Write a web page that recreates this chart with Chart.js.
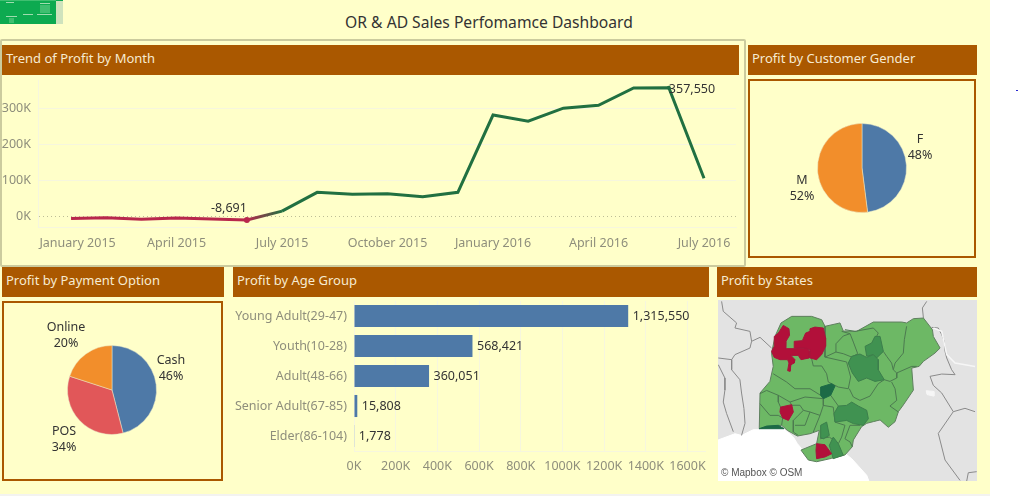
<!DOCTYPE html>
<html lang="en">
<head>
<meta charset="UTF-8">
<title>OR & AD Sales Dashboard</title>
<script src="https://cdn.jsdelivr.net/npm/chart.js"></script>
<style>
    html, body { margin: 0; padding: 0; background: #fff; overflow: hidden; }
    body { width: 1018px; height: 496px; position: relative; font-family: "Noto Sans", sans-serif; }
    .page { position: absolute; left: 0; top: 0; width: 990px; height: 494px; background: #FFFFC9; }
    .strip { position: absolute; left: 0; top: 494px; width: 990px; height: 2px; background: #F3F3F0; }
    .thumb { position: absolute; left: 0; top: 0; width: 63px; height: 24px; background: #0DAA50; }
    .thumb i { position: absolute; background: #9fdcae; height: 1px; display: block; }
    .thumb .side { left: 56px; top: 1px; width: 7px; height: 23px; background: #cfe3bd; }
    .thumb .pane { background: #3fbf70; }
    .title { position: absolute; left: 0; top: 11px; width: 978px; text-align: center; font-size: 15.65px; color: #333; white-space: nowrap; }
    .trendbox { position: absolute; left: 0; top: 39px; width: 742px; height: 224px; border: 2px solid #CBCB9E; border-radius: 2px; }
    .head { position: absolute; height: 30px; line-height: 26px; background: #AA5800; color: #F7EBD2; font-size: 13px; box-sizing: border-box; padding-left: 4px; white-space: nowrap; }
    .box { position: absolute; border: 2px solid #AA5800; box-sizing: border-box; }
    canvas { position: absolute; }
    .lbl { position: absolute; width: 70px; margin-left: -35px; text-align: center; font-size: 12.5px; line-height: 16px; color: #333; }
    .map { position: absolute; left: 718px; top: 300px; width: 259px; height: 181px; background: #E3E3E3; }
    .credit { position: absolute; left: 721px; top: 467px; font: 10px "Liberation Sans", sans-serif; color: #555; }
    .dot { position: absolute; left: 1016px; top: 90px; width: 2px; height: 1px; background: #2a2ad0; }
</style>
</head>
<body>
<div class="page"></div>
<div class="strip"></div>
<div class="thumb">
    <i class="pane" style="left:0;top:0;width:56px"></i>
    <i style="left:6px;top:2px;width:8px"></i>
    <i style="left:40px;top:3px;width:10px"></i>
    <i style="left:6px;top:16px;width:11px"></i>
    <i style="left:23px;top:14px;width:10px"></i>
    <i style="left:37px;top:14px;width:15px"></i>
    <i class="pane" style="left:40px;top:5px;width:10px;height:8px"></i>
    <i class="pane" style="left:9px;top:18px;width:5px;height:5px"></i>
    <i class="side"></i>
</div>
<div class="title">OR &amp; AD Sales Perfomamce Dashboard</div>
<div class="trendbox"></div>
<div class="head" style="left:2px;top:45px;width:737px">Trend of Profit by Month</div>
<div class="head" style="left:748px;top:45px;width:229px">Profit by Customer Gender</div>
<div class="head" style="left:2px;top:267px;width:222px">Profit by Payment Option</div>
<div class="head" style="left:233px;top:267px;width:476px">Profit by Age Group</div>
<div class="head" style="left:717px;top:267px;width:260px">Profit by States</div>
<div class="box" style="left:748px;top:79px;width:228px;height:179px"></div>
<div class="box" style="left:2px;top:301px;width:221px;height:180px"></div>

<canvas id="trendChart" width="742" height="188" style="left:2px;top:76px"></canvas>
<canvas id="genderChart" width="110" height="110" style="left:807px;top:113px"></canvas>
<canvas id="paymentChart" width="110" height="110" style="left:57px;top:335px"></canvas>
<canvas id="ageChart" width="476" height="182" style="left:233px;top:301px"></canvas>
<div class="map"></div>
<canvas id="mapChart" width="259" height="181" style="left:718px;top:300px"></canvas>
<div class="credit">© Mapbox © OSM</div>
<div class="dot"></div>

<div class="lbl" id="gender0" style="left:920px;top:131px"></div>
<div class="lbl" id="gender1" style="left:802px;top:172px"></div>
<div class="lbl" id="payment0" style="left:171px;top:352px"></div>
<div class="lbl" id="payment1" style="left:64px;top:423px"></div>
<div class="lbl" id="payment2" style="left:66px;top:319px"></div>

<script>
    // monthly profit, January 2015 to July 2016
    const months = ['January 2015', 'February 2015', 'March 2015', 'April 2015', 'May 2015', 'June 2015',
        'July 2015', 'August 2015', 'September 2015', 'October 2015', 'November 2015', 'December 2015',
        'January 2016', 'February 2016', 'March 2016', 'April 2016', 'May 2016', 'June 2016', 'July 2016'];
    const monthlyProfit = [-4200, -2600, -6800, -3400, -6000, -8691, 16000, 68000, 63000, 64000, 56000, 68000,
        282000, 265000, 301000, 309000, 357000, 357550, 107000];
    const monthTicks = [0, 3, 6, 9, 12, 15, 18];
    const profitTicks = [0, 100000, 200000, 300000];

    const genderLabels = ['F', 'M'];
    const genderValues = [48, 52];
    const paymentLabels = ['Cash', 'POS', 'Online'];
    const paymentValues = [46, 34, 20];

    const ageGroups = ['Young Adult(29-47)', 'Youth(10-28)', 'Adult(48-66)', 'Senior Adult(67-85)', 'Elder(86-104)'];
    const ageProfit = [1315550, 568421, 360051, 15808, 1778];
    const ageTicks = [0, 200000, 400000, 600000, 800000, 1000000, 1200000, 1400000, 1600000];

    // map outlines as [longitude, latitude]
    const nigeria = [[4.17,13.38],[4.88,13.81],[6.21,13.81],[6.88,13.59],[7.10,13.16],[8.10,13.38],[8.32,12.85],[9.21,12.83],[10.32,13.44],[12.21,13.44],[12.54,13.38],[12.99,13.66],[13.66,13.70],[14.26,12.94],[14.32,12.50],[14.77,11.74],[14.43,11.41],[13.66,10.87],[13.37,10.54],[12.88,10.43],[12.99,8.99],[12.32,8.02],[11.99,7.58],[11.77,6.93],[11.32,6.56],[10.77,7.04],[10.32,6.93],[9.88,6.82],[9.54,6.60],[8.99,5.73],[8.92,5.29],[8.43,4.75],[7.54,4.53],[6.54,4.31],[5.99,4.42],[5.50,5.07],[6.54,5.49],[6.72,6.36],[6.10,6.14],[5.26,5.99],[4.59,6.36],[4.21,6.69],[2.72,6.47],[2.77,8.80],[3.43,9.56],[3.65,10.54],[3.54,11.41],[3.77,12.50]];
    const sea = [[-0.08,5.71],[1.10,6.14],[1.54,6.03],[2.32,6.40],[4.43,6.40],[4.99,5.92],[5.26,5.49],[5.54,5.16],[5.99,4.62],[6.66,4.51],[8.32,4.94],[8.88,4.51],[9.88,3.42],[10.05,2.98],[-0.08,2.98]];
    const lake = [[13.85,8.95],[14.35,8.90],[14.35,8.60],[13.90,8.70]];
    const borderLines = [
        [[0.21,14.79],[0.32,14.14],[1.21,13.38],[1.10,13.05],[2.10,12.83],[2.21,12.18],[2.77,12.44],[3.54,11.74]],
        [[2.21,12.18],[2.10,11.74],[1.10,11.31],[0.88,10.98],[-0.01,11.09]],
        [[0.88,10.98],[0.88,10.32],[1.43,9.67],[1.54,8.80],[1.70,7.78],[1.77,6.82],[1.54,6.03]],
        [[-0.01,10.65],[0.43,9.78],[0.43,8.99],[0.32,8.21],[0.54,7.47],[0.99,6.27]],
        [[13.88,14.79],[13.59,14.36],[13.66,13.70]],
        [[14.21,13.09],[14.65,13.05],[14.88,12.61],[15.05,12.18],[15.10,11.52],[15.21,11.09],[15.54,10.32],[15.77,10.00],[14.88,10.04],[14.10,9.89],[14.32,9.30],[14.88,8.80],[15.65,7.58],[14.65,6.16],[15.10,4.42],[16.10,3.09]],
        [[15.65,7.58],[16.43,7.80],[17.10,7.58]],
        [[16.54,3.03],[16.65,3.59],[17.21,3.66]]
    ];
    const river = [[14.32,13.05],[14.88,12.83],[15.21,11.31],[15.77,10.76],[17.10,10.54]];
    const stateLines = [
        [[7.10,13.16],[7.10,11.15],[8.54,10.83],[8.81,9.85],[8.65,9.08]],
        [[7.10,11.15],[7.83,11.48],[7.83,12.02],[8.32,12.53],[8.77,12.68],[8.99,12.13],[9.28,11.37],[8.88,11.15]],
        [[7.83,11.48],[8.32,11.37],[8.88,11.15]],
        [[8.21,12.83],[8.77,12.68]],
        [[8.43,12.94],[9.10,12.83],[10.32,13.05],[10.65,12.72],[10.54,12.50]],
        [[12.54,13.16],[12.39,12.29],[12.32,11.41],[11.77,10.76],[11.65,10.32],[11.88,10.11],[12.88,10.54],[13.21,10.54]],
        [[10.99,11.52],[11.21,11.20],[11.54,10.76],[11.65,10.32]],
        [[11.88,10.11],[11.88,9.78],[11.43,9.56],[11.05,9.67]],
        [[6.21,11.04],[6.32,10.57],[6.88,10.57],[7.21,10.06],[7.32,9.52],[7.99,9.19],[8.65,9.08]],
        [[8.72,9.08],[8.99,8.54],[9.43,8.32],[10.10,8.60],[10.65,9.41],[11.05,9.67]],
        [[11.54,9.52],[11.77,9.08],[11.88,8.32],[11.43,7.95],[11.99,7.56]],
        [[3.65,10.06],[4.54,9.52],[5.10,9.08],[6.10,9.08],[6.81,8.65]],
        [[2.77,8.76],[3.21,8.97],[3.99,8.65],[4.77,8.21],[5.77,8.54],[6.99,8.43]],
        [[3.99,8.65],[3.99,8.21],[4.14,7.88]],
        [[2.77,8.10],[3.43,7.34],[3.99,7.34],[4.28,7.17]],
        [[4.28,7.17],[4.21,6.69]],
        [[4.88,8.00],[5.43,8.00],[5.66,7.67],[5.32,7.34],[4.99,7.01],[4.99,6.25],[5.32,6.03]],
        [[5.66,7.67],[6.10,7.56],[5.77,6.69],[5.10,6.69]],
        [[6.10,7.56],[6.77,7.34],[6.32,6.25]],
        [[4.77,8.21],[4.88,8.00]],
        [[6.99,8.43],[6.99,7.99],[7.65,7.88],[7.77,6.90]],
        [[6.99,7.99],[6.77,7.34]],
        [[7.77,6.90],[8.43,6.69],[8.21,5.92],[7.99,5.49]],
        [[9.43,6.69],[8.77,6.69],[8.43,5.81],[8.77,5.60],[8.92,5.29]],
        [[6.77,5.81],[7.39,5.92],[7.70,5.70]],
        [[7.48,8.65],[7.99,7.95]]
    ];
    const midStates = [
        [[8.88,11.20],[9.43,11.35],[9.88,11.13],[10.32,11.31],[10.65,10.98],[10.65,10.32],[11.05,9.67],[10.43,9.56],[9.88,9.78],[9.32,9.56],[8.92,10.11],[8.65,10.76]],
        [[9.77,11.85],[10.21,12.07],[10.43,12.50],[10.77,12.50],[10.99,11.52],[10.54,11.09],[10.32,11.31],[9.88,11.20]],
        [[7.99,7.95],[8.54,7.99],[8.88,8.21],[9.32,7.95],[9.88,7.67],[9.99,7.12],[9.65,6.69],[8.99,6.80],[8.54,7.01],[7.77,6.90],[7.70,7.45]],
        [[6.81,6.69],[7.21,6.90],[7.39,6.03],[6.99,5.81],[6.77,5.92]],
        [[7.65,5.92],[7.99,5.49],[8.32,4.73],[7.65,4.51],[7.39,5.38]]
    ];
    const darkStates = [
        [[6.81,9.19],[7.54,9.41],[7.77,9.26],[7.48,8.65],[6.99,8.43],[6.81,8.65]],
        [[2.72,6.47],[3.21,6.64],[3.99,6.69],[4.37,6.47]]
    ];
    const lossStates = [
        [[4.32,13.22],[4.70,13.00],[4.74,12.57],[4.50,12.18],[4.48,11.70],[5.10,11.70],[5.88,11.74],[6.10,11.52],[6.05,11.09],[5.50,10.98],[5.32,11.26],[4.83,11.26],[5.10,10.98],[5.05,10.76],[4.83,10.65],[4.77,10.22],[4.61,10.26],[4.70,10.76],[4.61,10.98],[4.10,10.98],[3.72,11.13],[3.54,11.52],[3.72,11.85],[3.72,12.50],[3.99,12.72]],
        [[6.10,13.00],[6.43,13.11],[6.99,13.05],[7.14,12.40],[7.14,11.85],[6.88,11.31],[6.54,10.98],[6.10,11.09],[6.10,11.63],[5.66,11.74],[5.10,11.74],[5.05,12.18],[5.59,12.22],[5.81,12.72],[6.10,12.83]],
        [[4.14,7.88],[4.88,8.04],[4.99,7.56],[4.66,7.01],[4.28,7.17],[4.10,7.56]],
        [[6.54,5.49],[7.10,5.42],[7.54,4.83],[7.10,4.62],[6.54,4.51],[6.50,5.05]]
    ];

    const BLUE = '#4E79A7', ORANGE = '#F28E2B', RED = '#E15759';
    const GRID = '#F6F6DE', TICK = '#8E8E7C', LABEL = '#333333';
    const LOSS = '#B8274C', GAIN = '#217041';

    Chart.defaults.font.family = '"Noto Sans", sans-serif';
    Chart.defaults.font.size = 12.5;
    Chart.defaults.animation = false;
    Chart.defaults.responsive = false;
    Chart.defaults.plugins.legend.display = false;
    Chart.defaults.plugins.tooltip.enabled = false;

    function setTicks(list) {
        return scale => { scale.ticks = list.map(value => ({ value })); };
    }

    // fixes an axis box so the plot area stays where it is put
    function fixBox(prop, size) {
        return scale => {
            scale[prop] = size;
            scale.paddingTop = scale.paddingBottom = scale.paddingLeft = scale.paddingRight = 0;
        };
    }

    function thousands(value) {
        return (value / 1000) + 'K';
    }

    // writes value text next to the marks of dataset 0
    function valueLabels(draw) {
        return {
            id: 'valueLabels',
            afterDatasetsDraw(chart) {
                const c = chart.ctx;
                c.save();
                c.font = '12.5px "Noto Sans", sans-serif';
                c.fillStyle = LABEL;
                c.textBaseline = 'middle';
                draw(c, chart.getDatasetMeta(0).data);
                c.restore();
            }
        };
    }

    // profit trend
    const lowIndex = monthlyProfit.indexOf(Math.min(...monthlyProfit));
    const highIndex = monthlyProfit.indexOf(Math.max(...monthlyProfit));

    new Chart(document.getElementById('trendChart'), {
        type: 'line',
        data: {
            datasets: [{
                data: monthlyProfit.map((y, x) => ({ x, y })),
                borderWidth: 3,
                borderColor: GAIN,
                pointRadius: ctx => (ctx.dataIndex === lowIndex ? 3 : ctx.dataIndex === highIndex ? 2 : 0),
                pointBackgroundColor: ctx => (ctx.dataIndex === lowIndex ? LOSS : GAIN),
                pointBorderWidth: 0,
                segment: {
                    borderColor: ctx => {
                        if (ctx.p1.parsed.y < 0) return LOSS;
                        if (ctx.p0.parsed.y >= 0) return GAIN;
                        const g = ctx.chart.ctx.createLinearGradient(ctx.p0.x, 0, ctx.p1.x, 0);
                        g.addColorStop(0, LOSS);
                        g.addColorStop(1, GAIN);
                        return g;
                    }
                }
            }]
        },
        options: {
            layout: { padding: { top: 4, right: 8 } },
            scales: {
                x: {
                    type: 'linear',
                    min: -0.94,
                    max: 18.91,
                    afterBuildTicks: setTicks(monthTicks),
                    afterFit: fixBox('height', 37),
                    ticks: {
                        color: TICK, maxRotation: 0, autoSkip: false, padding: 9,
                        // first label sits clear of the axis line
                        callback: v => (v === 0 ? '\u00a0\u00a0\u00a0\u00a0' : '') + months[v]
                    },
                    grid: { display: false, drawTicks: false },
                    border: { color: GRID }
                },
                y: {
                    min: -28000,
                    max: 379000,
                    afterBuildTicks: setTicks(profitTicks),
                    afterFit: fixBox('width', 36),
                    ticks: { color: TICK, padding: 7, callback: thousands },
                    grid: {
                        drawTicks: false,
                        color: ctx => (ctx.tick.value === 0 ? '#BDBD96' : GRID)
                    },
                    border: { color: GRID, dash: ctx => (ctx.tick && ctx.tick.value === 0 ? [1, 3] : []) }
                }
            }
        },
        plugins: [valueLabels((c, pts) => {
            c.textAlign = 'center';
            c.fillText(monthlyProfit[lowIndex].toLocaleString('en-US'), pts[lowIndex].x - 18, pts[lowIndex].y - 12);
            c.textAlign = 'left';
            c.fillText(monthlyProfit[highIndex].toLocaleString('en-US'), pts[highIndex].x, pts[highIndex].y + 2);
        })]
    });

    // the two pies
    function drawPie(id, values, colors) {
        new Chart(document.getElementById(id), {
            type: 'pie',
            data: {
                datasets: [{
                    data: values,
                    backgroundColor: colors,
                    borderWidth: 0.5,
                    borderColor: '#E9E9C8',
                    radius: 44.5
                }]
            },
            options: { layout: { padding: 0 } }
        });
    }

    drawPie('genderChart', genderValues, [BLUE, ORANGE]);
    drawPie('paymentChart', paymentValues, [BLUE, RED, ORANGE]);

    genderLabels.forEach((name, i) => {
        document.getElementById('gender' + i).innerHTML = name + '<br>' + genderValues[i] + '%';
    });
    paymentLabels.forEach((name, i) => {
        document.getElementById('payment' + i).innerHTML = name + '<br>' + paymentValues[i] + '%';
    });

    // age group bars
    new Chart(document.getElementById('ageChart'), {
        type: 'bar',
        data: {
            labels: ageGroups,
            datasets: [{ data: ageProfit, backgroundColor: BLUE, barPercentage: 0.736, categoryPercentage: 1 }]
        },
        options: {
            indexAxis: 'y',
            layout: { padding: { right: 4 } },
            scales: {
                x: {
                    min: 0,
                    max: 1684000,
                    afterBuildTicks: setTicks(ageTicks),
                    afterFit: fixBox('height', 32),
                    ticks: { color: TICK, maxRotation: 0, autoSkip: false, padding: 8, callback: thousands },
                    grid: { color: GRID, drawTicks: false },
                    border: { color: GRID }
                },
                y: {
                    afterFit: fixBox('width', 121),
                    ticks: { color: TICK, padding: 7 },
                    grid: { display: false, drawTicks: false },
                    border: { color: GRID }
                }
            }
        },
        plugins: [valueLabels((c, bars) => {
            c.textAlign = 'left';
            bars.forEach((bar, i) => c.fillText(ageProfit[i].toLocaleString('en-US'), bar.x + 4.5, bar.y));
        })]
    });

    // state map, drawn as closed outlines on lon/lat scales
    function closed(points) {
        return points.concat([points[0]]).map(([x, y]) => ({ x, y }));
    }
    function area(points, fillColor, lineColor) {
        return { data: closed(points), showLine: true, fill: 'shape', backgroundColor: fillColor,
            borderColor: lineColor, borderWidth: 1, pointRadius: 0, tension: 0 };
    }
    function path(points, lineColor, width) {
        return { data: points.map(([x, y]) => ({ x, y })), showLine: true, fill: false,
            borderColor: lineColor, borderWidth: width, pointRadius: 0, tension: 0 };
    }

    // Chart.js paints the first dataset last, so the top layers come first
    const mapLayers = [
        ...lossStates.map(s => area(s, '#B2103A', '#A8153C')),
        ...darkStates.map(s => area(s, '#1C6A46', '#1C6A46')),
        ...midStates.map(s => area(s, '#409251', '#3C7F4C')),
        ...stateLines.map(l => path(l, '#4C7A50', 1)),
        area(nigeria, '#6DB865', '#5E7F5E'),
        area(lake, '#F6F6F6', '#F6F6F6'),
        path(river, '#F6F6F6', 1.5),
        ...borderLines.map(l => path(l, '#8A8A8A', 1)),
        area(sea, '#FFFFFF', '#FFFFFF')
    ];

    new Chart(document.getElementById('mapChart'), {
        type: 'scatter',
        data: { datasets: mapLayers },
        options: {
            layout: { padding: 0 },
            scales: {
                x: { display: false, min: -0.03, max: 17.23 },
                y: { display: false, min: 3.05, max: 14.88 }
            }
        }
    });
</script>
</body>
</html>
